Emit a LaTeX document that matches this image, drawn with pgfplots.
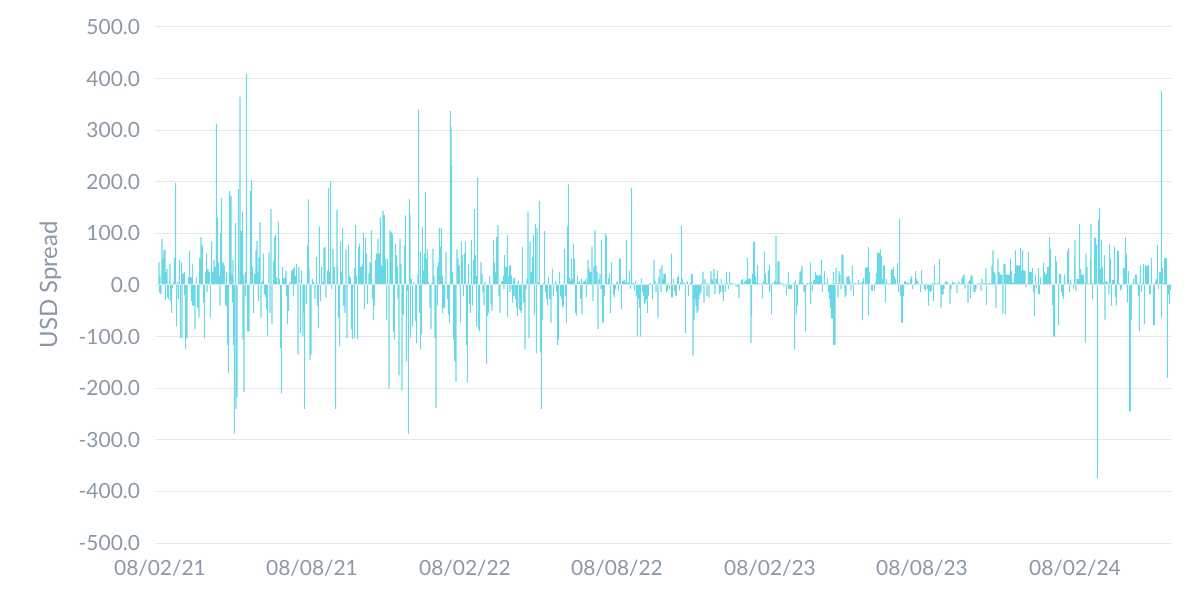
\documentclass[border=0pt]{standalone}
\usepackage{fontspec}
\setmainfont{Lato}
\usepackage{pgfplots}
\pgfplotsset{compat=1.18}
\definecolor{spreadcyan}{HTML}{4DD0E1}
\definecolor{labelgray}{HTML}{8A97A5}
\definecolor{gridgray}{HTML}{E4E7EA}

% x positions are on a linear time scale: 08/02/21 = 480, six months ~ 457.5 units
\begin{document}
\begin{tikzpicture}
\begin{axis}[
    scale only axis,
    width=508.5bp, height=258bp,
    xmin=465, xmax=3516,
    ymin=-500, ymax=500,
    ytick={-500,-400,...,500},
    xtick={480,936,1395,1851,2310,2766,3225},
    xticklabels={08/02/21,08/08/21,08/02/22,08/08/22,08/02/23,08/08/23,08/02/24},
    ymajorgrids, grid style={gridgray, line width=0.5bp},
    axis line style={draw=none},
    tick style={draw=none},
    /pgf/number format/fixed,
    /pgf/number format/fixed zerofill,
    /pgf/number format/precision=1,
    /pgf/number format/assume math mode=true,
    tick label style={font=\fontsize{10.5}{12}\selectfont, text=labelgray},
    xticklabel style={yshift=-5bp},
    yticklabel style={xshift=-4bp},
    ylabel={USD Spread},
    ylabel style={at={(axis description cs:-0.103,0.5)}, anchor=center,
                  font=\fontsize{12}{14}\selectfont, text=labelgray},
]
\addplot[ybar, bar width=0.55bp, fill=spreadcyan!85, draw=none] coordinates {
(477,44) (479,-15) (480,18) (483,-18) (486,89) (489,51) (492,67) (495,69) (496,-30) (498,25)
(501,31) (502,-24) (505,-27) (508,8) (510,41) (511,-31) (515,-54) (518,-6) (520,5) (523,52)
(527,198) (530,-80) (533,6) (535,-27) (538,48) (541,-103) (545,44) (546,-103) (549,22) (553,26)
(554,-20) (557,-125) (561,-103) (565,15) (569,66) (573,15) (574,-31) (577,40) (578,-40) (581,-40)
(585,-86) (589,15) (593,-44) (597,-63) (599,52) (603,93) (607,77) (611,-34) (614,-104) (617,25)
(620,61) (621,-14) (624,31) (628,25) (631,-63) (635,84) (639,25) (642,48) (645,35) (649,312)
(653,131) (656,44) (659,18) (660,-40) (662,100) (665,169) (669,44) (673,38) (676,-40) (679,25)
(680,-40) (683,-116) (686,-171) (689,182) (693,172) (696,20) (697,-34) (699,48) (700,-116) (703,-288)
(707,120) (708,-240) (711,-217) (715,186) (718,5)
(720,365) (724,105) (728,142) (729,-105) (731,20) (732,-207) (736,25) (737,-21) (739,409) (743,-90)
(747,-90) (751,182) (755,203) (758,35) (761,-54) (764,22) (768,67) (771,85) (774,25) (775,-31)
(777,54) (780,122) (783,-63) (786,8) (790,61) (793,-18) (797,-24) (800,-47) (803,-99) (807,63)
(810,-54) (813,147) (816,-76) (820,46) (823,93) (827,97) (830,15) (835,123) (838,12) (842,-122)
(844,-210) (848,35) (851,12) (854,15) (858,28) (859,-21) (862,-76) (866,-50) (870,6) (875,28)
(879,31) (880,-22) (883,35) (887,18) (890,41) (894,-135) (897,35) (901,-93) (905,28) (909,-99)
(912,-54) (914,-240) (919,-37) (922,77) (925,166) (927,31) (930,-145) (933,-135) (937,12) (941,6)
(945,-27) (949,54) (952,-40) (955,-83) (958,113) (961,-31) (965,35) (969,5) (972,72)
(975,74) (978,-24) (983,28) (986,188) (989,25) (992,201) (995,-8) (999,70) (1003,35) (1007,-240)
(1011,146) (1013,35) (1015,-63) (1019,-119) (1022,84) (1025,25) (1028,110) (1031,-40) (1035,-54) (1038,69)
(1041,-103) (1045,78) (1048,18) (1051,15) (1054,-86) (1057,-105) (1060,-2) (1063,33) (1064,-103) (1067,116)
(1070,18) (1073,-106) (1076,74) (1079,80) (1083,35) (1087,41) (1090,101) (1093,-47) (1096,92) (1100,61)
(1103,-37) (1107,22) (1110,44) (1114,106) (1117,-27) (1120,-67) (1123,-40) (1126,48) (1130,61) (1134,90)
(1137,61) (1141,131) (1145,38) (1149,144) (1153,136) (1157,51) (1160,-67) (1163,51) (1167,-201) (1170,106)
(1173,103) (1177,98) (1180,-90) (1183,-106) (1186,80) (1190,58) (1193,35) (1194,-27) (1197,-175) (1200,90)
(1203,41) (1206,-204) (1210,-57) (1213,77) (1216,135) (1219,-148) (1222,-11) (1225,-289) (1228,167)
(1230,136) (1231,-103) (1234,12) (1238,-80) (1242,5) (1247,-70) (1250,-112) (1254,20) (1256,340) (1258,-54)
(1261,64) (1262,-125) (1264,-96) (1267,113) (1270,28) (1273,61) (1276,180) (1279,51) (1282,69) (1286,6)
(1290,-44) (1293,-86) (1296,4) (1299,70) (1302,18) (1305,-103) (1308,-238) (1312,35) (1313,-40) (1315,44)
(1318,111) (1321,74) (1324,111) (1327,18) (1328,-55) (1330,-44) (1334,-46) (1338,64) (1342,-27) (1345,-57)
(1348,-73) (1351,337) (1353,307) (1355,231) (1358,25) (1361,-106) (1364,-148) (1368,-188) (1371,69) (1374,51)
(1378,38) (1381,-72) (1384,84) (1387,58) (1390,-21) (1393,61) (1396,84) (1399,-116) (1402,-188) (1405,41)
(1408,-37) (1411,-54) (1414,88) (1417,-40) (1420,48) (1423,147) (1426,58) (1429,18) (1430,-80) (1433,208)
(1436,-86) (1439,-90) (1443,44) (1446,22) (1449,-14) (1452,-40) (1455,6) (1460,-153) (1463,-60) (1466,-54)
(1469,17) (1473,-37) (1476,-50) (1480,87) (1483,44)
(1487,25) (1490,93) (1494,116) (1497,-21) (1500,-54) (1504,6) (1508,8) (1511,18) (1512,-8) (1514,58)
(1518,35) (1522,97) (1523,-63) (1525,18) (1529,38) (1530,-14) (1532,38) (1535,18) (1536,-8) (1538,-34)
(1541,12) (1542,-21) (1544,15) (1547,-27) (1550,-44) (1553,-60) (1555,8) (1558,-47) (1561,-50) (1564,-54)
(1567,74) (1570,-34) (1573,-34) (1575,-125) (1578,-8) (1581,12) (1584,142) (1587,-103) (1590,84) (1593,25)
(1597,54) (1600,97) (1603,-57) (1606,118) (1609,-132) (1611,110) (1615,5) (1618,163) (1621,-129) (1624,-240)
(1628,-67) (1631,4) (1634,105) (1637,-14) (1640,-27) (1643,-40) (1646,15) (1649,-27) (1653,-73) (1657,31)
(1660,-21) (1663,3) (1667,8) (1670,-14) (1673,-116) (1676,-106) (1679,25) (1682,-21) (1685,-27) (1688,-44)
(1691,-40) (1693,70) (1696,-21) (1699,-73) (1702,113) (1705,195) (1708,15) (1711,8) (1714,51) (1717,12)
(1720,80) (1723,50) (1726,-54) (1729,-60) (1732,18) (1735,4) (1738,8)
(1742,-27) (1745,12) (1746,-57) (1749,3) (1752,8) (1755,8) (1758,13) (1759,-24) (1761,4) (1764,48)
(1767,31) (1770,25) (1773,25) (1776,75) (1779,-31) (1782,35) (1785,106) (1788,38) (1791,25) (1794,-85)
(1797,12) (1800,22) (1803,-8) (1805,87) (1807,-73) (1810,-72) (1813,-21) (1816,100) (1819,95) (1822,3)
(1825,12) (1828,22) (1831,-54) (1834,44) (1837,3) (1840,-18) (1843,-24) (1846,-8) (1849,5) (1852,7)
(1855,-11) (1858,51) (1861,51) (1864,-47) (1867,8) (1870,8) (1873,10) (1876,5) (1879,87) (1882,5)
(1885,4) (1888,28) (1891,-7) (1894,188) (1895,162) (1897,3) (1900,4) (1903,-11) (1906,8) (1909,-21)
(1912,-100) (1915,-27) (1918,-44) (1921,-100) (1924,13) (1927,-14) (1930,-21) (1933,-37) (1936,-34) (1939,-27)
(1942,-54) (1945,-21) (1948,3) (1951,4) (1954,2) (1958,-27) (1962,48) (1965,8) (1968,-14) (1971,3)
(1974,-63) (1977,15) (1980,31) (1983,-14) (1986,38) (1989,12) (1992,22)
(1996,22) (1999,-14) (2002,-11) (2005,4) (2008,-8) (2011,3) (2014,61) (2015,-24) (2017,-24) (2020,12)
(2023,-11) (2026,-18) (2029,-21) (2032,15) (2035,18) (2038,-11) (2041,5) (2044,114) (2047,12) (2050,3)
(2053,5) (2056,-93) (2059,3) (2062,8) (2065,-21) (2068,2) (2071,4) (2074,22) (2077,20) (2079,-137)
(2082,-67) (2085,-27) (2088,-40) (2091,-54) (2094,-50) (2097,-27) (2100,-18) (2103,-14) (2106,4) (2109,26)
(2112,-34) (2115,12) (2118,3) (2121,-21) (2124,3) (2127,-24) (2130,2) (2133,27) (2136,12) (2139,8)
(2142,31) (2145,-18) (2148,12) (2152,28) (2155,4) (2158,-18) (2161,-14) (2164,12) (2167,-14) (2170,-31)
(2173,3) (2176,-14) (2179,25) (2182,4) (2185,-8) (2189,25) (2192,3) (2195,4) (2198,2) (2201,3)
(2205,2) (2208,-3) (2213,-3) (2217,-26) (2220,3) (2225,10) (2228,12) (2231,3) (2235,8) (2239,10)
(2242,52) (2245,12) (2248,13)
(2252,12) (2253,-112) (2255,-60) (2258,22) (2261,84) (2264,84) (2267,18) (2270,4) (2273,39) (2276,3)
(2280,2) (2284,3) (2287,-26) (2290,7) (2293,65) (2296,22) (2299,4) (2302,3) (2305,28) (2308,39)
(2309,-14) (2311,3) (2314,-57) (2317,3) (2320,4) (2323,7) (2326,9) (2328,95) (2331,5) (2334,46)
(2337,46) (2340,5) (2343,3) (2346,2) (2349,3) (2352,-3) (2356,2) (2359,-20) (2362,3) (2365,25)
(2366,-8) (2368,-8) (2371,-7) (2374,-8) (2377,3) (2380,2) (2383,4) (2384,-125) (2386,9) (2389,-57)
(2392,-40) (2395,3) (2398,9) (2400,25) (2403,28) (2406,37) (2409,4) (2412,-14) (2415,-14) (2417,-90)
(2420,3) (2423,4) (2426,2) (2429,4) (2431,44) (2432,-37) (2434,5) (2437,-11) (2440,9) (2443,10)
(2446,25) (2449,20) (2452,18) (2455,18) (2458,20) (2461,18) (2464,48) (2467,-14) (2470,3) (2473,27)
(2476,4) (2479,2) (2482,14) (2485,-14) (2488,-27) (2491,-44) (2494,-65) (2497,-65) (2500,25) (2501,-116)
(2503,3)
(2505,-116) (2508,33) (2511,3) (2514,-24) (2517,27) (2520,20) (2523,-8) (2526,59) (2529,59) (2532,4)
(2535,-24) (2538,-20) (2541,15) (2544,17) (2547,17) (2550,8) (2553,-11) (2557,37) (2560,-22) (2563,4)
(2567,3) (2571,2) (2575,10) (2579,3) (2583,3) (2587,8) (2588,-67) (2590,14) (2593,2) (2596,33)
(2599,33) (2602,35) (2605,74) (2606,-59) (2608,25) (2611,2) (2614,-11) (2617,-11) (2620,2) (2623,-11)
(2626,5) (2629,23) (2632,63) (2635,62) (2638,62) (2641,69) (2644,56) (2647,12) (2650,38) (2653,38)
(2656,-34) (2659,12) (2662,3) (2666,2) (2670,3) (2674,30) (2677,30) (2680,35) (2683,17) (2686,12)
(2690,3) (2693,43) (2696,-14) (2699,129) (2702,-22) (2705,-73) (2708,-73) (2711,-21) (2714,8) (2717,7)
(2720,5) (2723,4) (2726,5) (2729,2) (2732,12) (2735,17) (2738,-8) (2741,2) (2744,3) (2747,27)
(2750,12) (2753,8) (2756,3) (2759,2)
(2762,-14) (2765,29) (2768,3) (2771,2) (2774,-8) (2777,-11) (2780,3) (2783,-8) (2786,-40) (2789,-11)
(2792,-14) (2795,-11) (2798,4) (2801,-31) (2803,38) (2806,3) (2809,2) (2812,4) (2815,3) (2818,50)
(2821,3) (2823,-44) (2826,-18) (2829,-18) (2832,-8) (2835,4) (2838,7) (2841,7) (2844,4) (2847,2)
(2850,-36) (2853,-8) (2856,3) (2859,7) (2862,4) (2865,4) (2868,2) (2871,-16) (2874,3) (2877,7)
(2880,2) (2883,3) (2886,13) (2889,17) (2892,20) (2895,-7) (2898,2) (2901,3) (2904,-34) (2907,7)
(2910,10) (2911,-26) (2913,18) (2916,18) (2919,3) (2922,-14) (2925,-14) (2928,-8) (2931,2) (2934,3)
(2937,2) (2940,4) (2943,-11) (2946,12) (2949,3) (2952,2) (2955,3) (2958,33) (2959,-39) (2961,3)
(2964,2) (2967,4) (2970,3) (2973,2) (2976,38) (2979,67) (2982,25) (2985,22) (2988,-44) (2991,3)
(2994,51) (2997,25) (3000,20) (3003,20) (3006,20) (3009,-54) (3012,41)
(3015,41) (3016,-57) (3019,20) (3023,20) (3027,20) (3031,51) (3034,28) (3037,5) (3040,4) (3043,22)
(3046,67) (3050,38) (3053,38) (3056,38) (3059,38) (3062,72) (3065,28) (3068,67) (3072,28) (3075,28)
(3078,-4) (3082,3) (3085,64) (3088,25) (3091,25) (3094,25) (3097,33) (3100,-14) (3103,-60) (3106,20)
(3109,-6) (3112,3) (3115,33) (3116,-18) (3118,-18) (3121,15) (3124,3) (3127,2) (3131,44) (3134,26)
(3137,20) (3140,22) (3143,35) (3146,35) (3149,93) (3152,69) (3155,3) (3158,-39) (3161,-100) (3164,-100)
(3167,56) (3170,46) (3173,2) (3176,-78) (3179,21) (3182,21) (3185,-14) (3188,-21) (3191,-27) (3194,20)
(3197,3) (3200,2) (3203,66) (3206,72) (3209,-14) (3212,10) (3215,3) (3218,2) (3221,-8) (3224,54)
(3225,87) (3228,-11) (3231,12) (3234,12) (3237,12) (3239,118) (3242,31) (3245,20) (3248,20) (3251,20)
(3254,3) (3256,-111) (3258,61) (3261,35) (3264,3) (3267,2)
(3272,51) (3273,118) (3275,5) (3278,-27) (3281,3) (3284,92) (3287,92) (3290,78) (3292,-374) (3295,125)
(3298,149) (3301,31) (3304,88) (3307,35) (3310,5) (3313,58) (3315,-67) (3318,7) (3321,7) (3324,3)
(3327,-18) (3329,80) (3331,51) (3334,-40) (3337,10) (3340,10) (3343,75) (3346,-24) (3349,-40) (3352,66)
(3355,66) (3358,3) (3361,-11) (3364,-8) (3367,2) (3370,33) (3373,33) (3376,93) (3379,61) (3382,-34)
(3385,27) (3388,-245) (3391,-245) (3394,-67) (3397,3) (3400,13) (3403,2) (3406,20) (3409,20) (3412,3)
(3415,-21) (3418,-90) (3421,38) (3424,-14) (3427,3) (3430,41) (3433,-76) (3436,38) (3439,37) (3442,38)
(3445,38) (3448,-18) (3451,-18) (3454,52) (3457,3) (3460,-78) (3463,-78) (3466,7) (3469,12) (3472,78)
(3475,-8) (3478,25) (3481,25) (3484,376) (3485,-63) (3487,33) (3490,3) (3493,51) (3496,52) (3499,52)
(3502,-180) (3505,-18) (3508,-37) (3511,-10)
};
\addplot[gridgray, line width=0.5bp, forget plot] coordinates {(465,0) (3516,0)};
\coordinate (sw) at (rel axis cs:0,0);
\coordinate (ne) at (rel axis cs:1,1);
\end{axis}
\pgfresetboundingbox
\path[use as bounding box] ([shift={(-77.5bp,-31.5bp)}]sw) rectangle ([shift={(14bp,13.5bp)}]ne);
\end{tikzpicture}
\end{document}
